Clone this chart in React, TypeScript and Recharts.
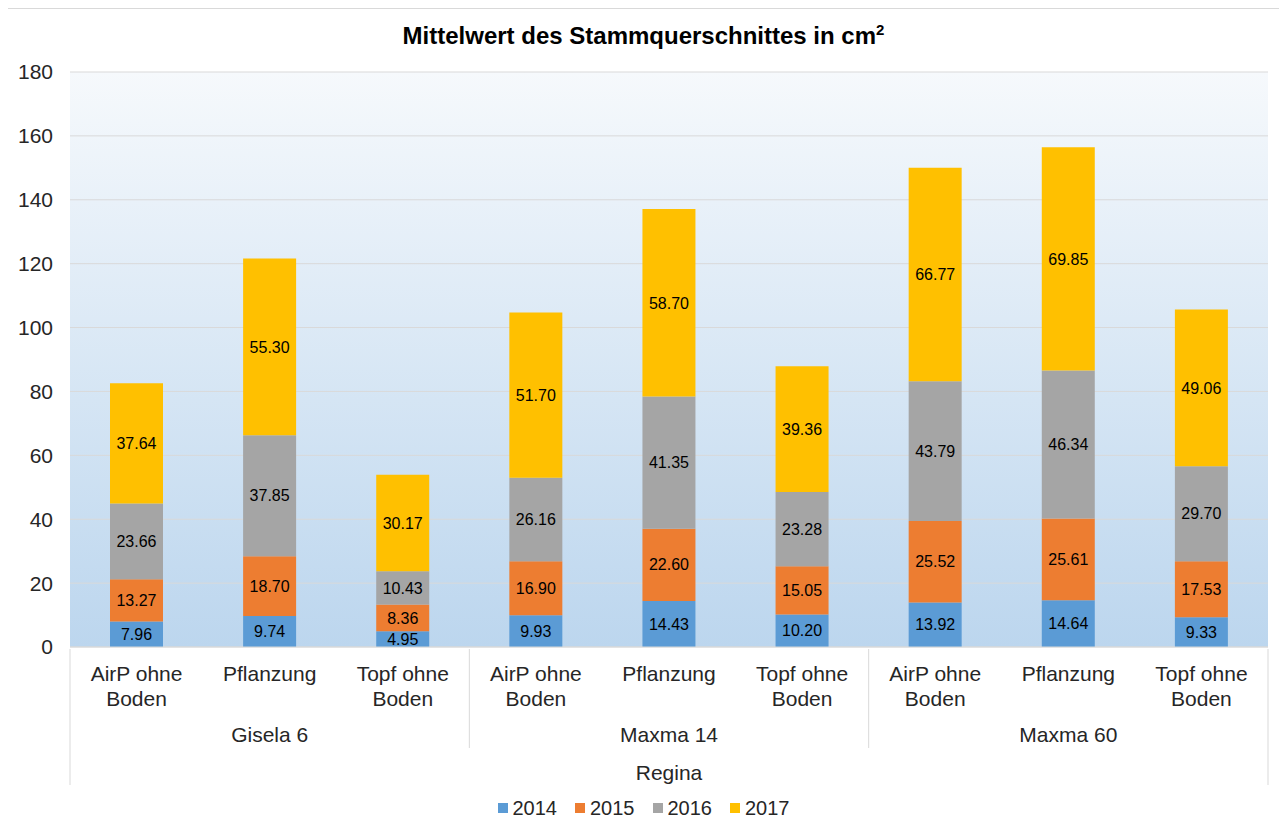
import { BarChart, Bar, XAxis, YAxis, CartesianGrid, LabelList } from 'recharts';

const groups = ['Gisela 6', 'Maxma 14', 'Maxma 60'];
const treatments = [['AirP ohne', 'Boden'], ['Pflanzung'], ['Topf ohne', 'Boden']];
const years = ['2014', '2015', '2016', '2017'];
const v2014 = [7.96, 9.74, 4.95, 9.93, 14.43, 10.2, 13.92, 14.64, 9.33];
const v2015 = [13.27, 18.7, 8.36, 16.9, 22.6, 15.05, 25.52, 25.61, 17.53];
const v2016 = [23.66, 37.85, 10.43, 26.16, 41.35, 23.28, 43.79, 46.34, 29.7];
const v2017 = [37.64, 55.3, 30.17, 51.7, 58.7, 39.36, 66.77, 69.85, 49.06];
const yTicks = [0, 20, 40, 60, 80, 100, 120, 140, 160, 180];

const COLORS = ['#5B9BD5', '#ED7D31', '#A5A5A5', '#FFC000'];
const FONT = '"Liberation Sans", Arial, sans-serif';
const TEXT = '#262626';

const data = v2014.map((_, i) => ({
  id: `c${i}`,
  '2014': v2014[i],
  '2015': v2015[i],
  '2016': v2016[i],
  '2017': v2017[i],
}));

const PLOT_LEFT = 70;
const PLOT_RIGHT = 19;
const CHART_W = 1287;
const BAND = (CHART_W - PLOT_LEFT - PLOT_RIGHT) / data.length;

function CatTick(props: any) {
  const { x, y, index } = props;
  const lines = treatments[index % 3];
  const left = x - BAND / 2;
  const right = x + BAND / 2;
  return (
    <g fontFamily={FONT} fontSize={21}>
      {lines.map((l, k) => (
        <text key={k} x={x} y={y + 32 + k * 25} textAnchor="middle" fill={TEXT}>
          {l}
        </text>
      ))}
      {index % 3 === 1 && (
        <text x={x} y={y + 93} textAnchor="middle" fill={TEXT}>
          {groups[Math.floor(index / 3)]}
        </text>
      )}
      {index === 4 && (
        <text x={x} y={y + 131} textAnchor="middle" fill={TEXT}>
          Regina
        </text>
      )}
      {index % 3 === 0 && (
        <line x1={left} x2={left} y1={y} y2={y + (index === 0 ? 136 : 99)} stroke="#d9d9d9" />
      )}
      {index === data.length - 1 && (
        <line x1={right} x2={right} y1={y} y2={y + 136} stroke="#d9d9d9" />
      )}
    </g>
  );
}

export default function App() {
  return (
    <div style={{ position: 'relative', margin: -8, width: CHART_W, height: 832, background: '#fff' }}>
      <div
        style={{
          position: 'absolute',
          left: 6,
          top: 8,
          width: 1275,
          height: 818,
          border: '1px solid #d9d9d9',
        }}
      />
      <div
        style={{
          position: 'absolute',
          top: 22,
          left: 0,
          width: CHART_W,
          textAlign: 'center',
          fontFamily: FONT,
          fontWeight: 'bold',
          fontSize: 24,
          lineHeight: '28px',
          color: '#000',
        }}
      >
        Mittelwert des Stammquerschnittes in cm
        <span style={{ fontSize: 15, position: 'relative', top: -9 }}>2</span>
      </div>
      <BarChart
        width={CHART_W}
        height={832}
        data={data}
        margin={{ top: 72, right: PLOT_RIGHT, bottom: 35, left: 0 }}
        barSize={53}
      >
        <defs>
          <linearGradient id="plotBg" x1="0" y1="0" x2="0" y2="1">
            <stop offset="0%" stopColor="#f6f9fc" />
            <stop offset="100%" stopColor="#bcd6ee" />
          </linearGradient>
        </defs>
        <CartesianGrid vertical={false} stroke="#d9d9d9" fill="url(#plotBg)" />
        <XAxis
          dataKey="id"
          height={150}
          tickLine={false}
          tickSize={0}
          axisLine={{ stroke: '#d9d9d9' }}
          tick={<CatTick />}
          interval={0}
        />
        <YAxis
          width={PLOT_LEFT}
          domain={[0, 180]}
          ticks={yTicks}
          axisLine={false}
          tickLine={false}
          tickSize={0}
          tickMargin={17}
          tick={{ fontFamily: FONT, fontSize: 21, fill: TEXT }}
        />
        {years.map((y, i) => (
          <Bar key={y} dataKey={y} stackId="a" fill={COLORS[i]} isAnimationActive={false}>
            <LabelList
              dataKey={y}
              position="center"
              formatter={(v: any) => Number(v).toFixed(2)}
              style={{ fontFamily: FONT, fontSize: 16, fill: '#000' }}
            />
          </Bar>
        ))}
      </BarChart>
      <div
        style={{
          position: 'absolute',
          top: 796,
          left: 0,
          width: CHART_W,
          display: 'flex',
          justifyContent: 'center',
          fontFamily: FONT,
          fontSize: 20,
          lineHeight: '24px',
          color: TEXT,
        }}
      >
        {years.map((y, i) => (
          <div key={y} style={{ display: 'flex', alignItems: 'center', marginRight: i < years.length - 1 ? 18 : 0 }}>
            <span style={{ width: 10, height: 10, background: COLORS[i], marginRight: 5, display: 'inline-block' }} />
            <span>{y}</span>
          </div>
        ))}
      </div>
    </div>
  );
}
